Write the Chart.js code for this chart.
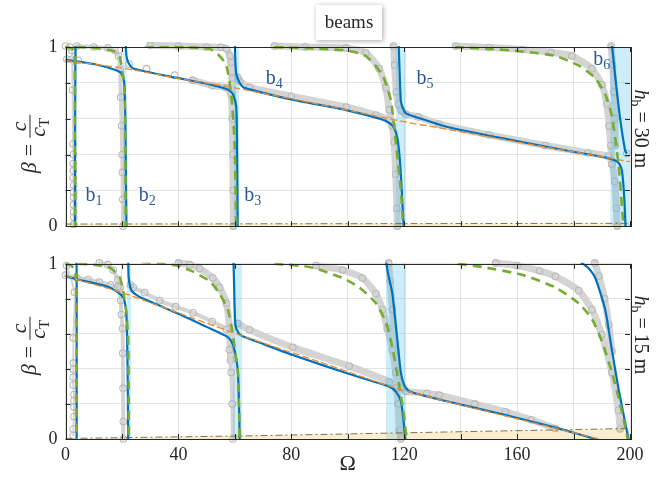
<!DOCTYPE html>
<html>
<head>
<meta charset="utf-8">
<script src="https://cdn.jsdelivr.net/npm/chart.js@4.4.1/dist/chart.umd.min.js"></script>
<style>
  html, body { margin: 0; padding: 0; background: #fff; }
  #wrap { position: relative; width: 656px; height: 477px; }
  canvas { position: absolute; left: 0; }
  #topChart { top: 0; }
  #botChart { top: 245px; }
</style>
</head>
<body>
<div id="wrap">
  <canvas id="topChart" width="656" height="245"></canvas>
  <canvas id="botChart" width="656" height="232"></canvas>
</div>
<script>
// axis ticks
const omegaGrid = [0, 20, 40, 60, 80, 100, 120, 140, 160, 180, 200];
const omegaLabels = [0, 40, 80, 120, 160, 200];
const betaGrid = [0, 0.2, 0.4, 0.6, 0.8, 1];
const betaLabels = [0, 1];

// ---- h_b = 30 m (top panel), points are [Omega, beta] ----
const topBase = [[0,0.925],[21,0.88],[40,0.825],[60,0.772],[65,0.757],[90,0.68],[122,0.577],[132,0.55],[160,0.47],[200,0.36]];

const topBlue1 = [[3.6,1.03],[3.5,0.9],[3.4,0.5],[3.4,0]];
const topBlue2 = [[0,0.928],[10,0.905],[18,0.87],[19.9,0.85],[20.8,0.8],[21.2,0.6],[21.4,0.3],[21.6,0]];
const topBlue3 = [[21.3,1.03],[21.6,0.95],[22.2,0.915],[24,0.88],[40,0.826],[50,0.795],[57.5,0.763],[59.3,0.737],[60.5,0.666],[60.8,0.4],[61,0]];
const topBlue4 = [[60,1.03],[60.1,0.95],[60.5,0.85],[61.7,0.8],[63,0.775],[65,0.765],[79,0.71],[99.4,0.648],[112,0.597],[114.7,0.577],[116.4,0.55],[117.6,0.49],[118.3,0.4],[118.8,0.29],[119.7,0.03],[119.8,0]];
const topBlue5 = [[118,1.03],[118.3,0.9],[118.8,0.7],[119.5,0.66],[120.6,0.63],[125,0.605],[135,0.555],[155,0.49],[179.4,0.417],[192.4,0.38],[195.5,0.36],[196.8,0.33],[197.3,0.29],[198,0.15],[198.4,0]];
const topBlue6 = [[193.5,1.03],[194.8,0.83],[196.5,0.6],[198.3,0.42],[198.9,0.405]];

const topGreen1 = [[0,1.0],[2.5,0.99],[3.2,0.95],[3.35,0.5],[3.4,0]];
const topGreen2 = [[4,1.0],[10,0.995],[15,0.985],[18.1,0.97],[19.3,0.94],[20.4,0.84],[21,0.737],[21.2,0.4],[21.3,0]];
const topGreen3 = [[28,1.01],[40,1.0],[51,0.99],[54.6,0.95],[57,0.897],[58.7,0.737],[59.9,0.47],[60.5,0]];
const topGreen4 = [[74,1.0],[90,0.99],[100.5,0.978],[106.4,0.95],[112.3,0.843],[115.3,0.7],[117,0.47],[118.8,0.204],[119.6,0]];
const topGreen5 = [[138,1.0],[150,0.99],[162,0.975],[173.6,0.95],[181.8,0.897],[187.7,0.826],[191.2,0.737],[193.6,0.613],[195.9,0.346],[197.7,0]];

const topGrayB1 = [[0,1.005],[1.5,1.0],[2.3,0.98],[2.5,0.76],[2.7,0.46],[2.8,0.4],[2.8,0.35],[2.8,0.31],[2.8,0.27],[2.9,0.23],[2.9,0.19],[2.9,0.16],[2.9,0.12],[2.9,0.08],[2.9,0.05],[2.9,0.01]];
const topGrayB2 = [[4,1.005],[10,1.0],[15,0.995],[17.5,0.98],[18.8,0.95],[19.3,0.88],[19.6,0.72],[19.9,0.56],[20.1,0.4],[20.2,0.3],[20.3,0.15],[20.4,0]];
const topGrayLow = [[0.5,0.932],[2,0.93],[4.5,0.925],[22.5,0.905],[28.7,0.879],[38.7,0.843]];
const topGrayB3 = [[45,0.815],[52,0.785],[57,0.773],[58.7,0.737],[59.1,0.6],[59.3,0.4],[59.4,0.2],[59.5,0]];
const topGrayB3up = [[30,1.01],[40,1.005],[50,1.0],[55,0.998],[57,0.99],[58.3,0.95],[58.7,0.915],[59.1,0.826],[59.3,0.7],[59.4,0.5]];
const topGrayB5 = [[61,0.83],[61.7,0.81],[65.2,0.775],[80,0.725],[99.4,0.665],[110,0.62],[114.7,0.59],[115.8,0.56],[116.4,0.47],[117,0.29],[117.4,0.1],[117.6,0]];
const topGrayB5up = [[74,1.005],[85,1.0],[99.4,0.995],[106.4,0.968],[111.1,0.88],[113.5,0.773],[114.7,0.65],[115.8,0.56]];
const topGrayB6 = [[116.2,1.005],[116.6,0.9],[117.2,0.75],[118,0.68],[119,0.645],[120.6,0.625],[125,0.61],[132.3,0.57],[150,0.51],[170,0.45],[185,0.41],[192.4,0.39],[193.6,0.346],[194.6,0.25],[195.2,0.1],[195.5,0]];
const topGrayB6up = [[138.2,1.005],[150,0.997],[161.8,0.986],[172,0.97],[179.4,0.95],[186.5,0.879],[190,0.79],[191.8,0.683],[192.6,0.559],[193.2,0.45],[193.6,0.346]];
const topGrayB6in = [[193.3,1.005],[193.8,0.9],[194.3,0.75],[194.6,0.6],[194.8,0.45]];
const topGrayEnd = [[198.9,0.405]];

const topBands = [[2.8,3.6],[20.4,21.7],[59.6,61.6],[117,120.8],[193,200]];
const topCut = [[0,0.012],[200,0.016]];

// ---- h_b = 15 m (bottom panel) ----
const botBase = [[0,0.93],[21,0.83],[45,0.69],[65,0.575],[90,0.44],[117,0.29],[135,0.215],[160,0.115],[189,0],[195,-0.025]];

const botBlue1 = [[3.9,1.03],[3.95,0.9],[3.95,0]];
const botBlue2 = [[0,0.93],[4,0.912],[10,0.89],[15.7,0.865],[19.9,0.82],[21,0.784],[21.6,0.7],[22,0.4],[22.2,0]];
const botBlue3 = [[22.2,1.03],[22.4,0.92],[23.4,0.847],[26.3,0.81],[40,0.715],[50,0.64],[57,0.587],[58.7,0.56],[59.9,0.506],[61.1,0.38],[61.6,0.1],[61.7,0]];
const botBlue4 = [[59.5,1.03],[59.7,0.9],[60.2,0.65],[61.5,0.6],[62.8,0.587],[68,0.555],[80.5,0.479],[100.5,0.371],[114.7,0.299],[117,0.272],[118.8,0.218],[119.6,0.128],[120.2,0.03],[120.4,0]];
const botBlue5 = [[113.5,1.03],[114.2,0.95],[115.8,0.83],[117.6,0.56],[118.8,0.38],[120,0.308],[121.7,0.272],[132,0.227],[155.9,0.137],[173.6,0.065],[187.7,0],[195,-0.03]];
const botBlue6 = [[182.5,1.01],[185,0.98],[187.7,0.919],[191.2,0.739],[193.6,0.506],[195.9,0.29],[198.3,0.092],[199.5,0]];

const botGreen1 = [[0,1.0],[2,0.99],[3.4,0.96],[3.9,0.85],[3.95,0]];
const botGreen2 = [[4.5,1.0],[10,0.995],[14.6,0.985],[16.9,0.964],[19.3,0.919],[20.4,0.847],[21.6,0.721],[22.2,0.56],[22.4,0.3],[22.4,0]];
const botGreen3 = [[27,1.01],[35,1.0],[39.3,0.99],[45.2,0.955],[51.1,0.9],[54.6,0.829],[57.5,0.739],[59.3,0.596],[60.5,0.45],[61.1,0.38],[61.6,0.1],[61.7,0]];
const botGreen4 = [[74,1.0],[86.4,0.982],[98.2,0.919],[104.1,0.865],[110,0.775],[113.5,0.667],[115.8,0.523],[118.2,0.308],[120,0.128],[120.8,0]];
const botGreen5 = [[139,1.0],[147.6,0.982],[161.8,0.937],[173.6,0.865],[181.8,0.775],[186.5,0.685],[190,0.56],[193.6,0.38],[196.5,0.2],[198.9,0.02],[199.2,0]];

const botGrayB1 = [[0.4,0.99],[3.2,0.838],[2.8,0.577],[2.8,0.434],[2.8,0.398],[2.8,0.353],[2.8,0.308],[3,0.254],[3,0.218],[3,0.182],[3,0.128],[2.8,0.057],[2.8,0.02]];
const botGrayLow = [[0,0.935],[4,0.92],[8,0.91],[12,0.895],[16,0.88],[18.5,0.87],[19.3,0.865]];
const botGrayB2 = [[12,1.005],[15,0.995],[16.9,0.964],[18.5,0.91],[19.3,0.865],[19.6,0.79],[19.8,0.71],[20.2,0.63],[20.3,0.49],[20.4,0.29],[20.5,0.1],[20.5,0]];
const botGrayB3 = [[23,0.88],[24,0.865],[28,0.835],[33.4,0.79],[39,0.755],[45.2,0.72],[52,0.67],[57,0.625],[58.1,0.51],[58.7,0.38],[59.1,0.2],[59.3,0]];
const botGrayB3up = [[40,1.005],[44,0.995],[47.5,0.973],[52.2,0.919],[54.6,0.865],[57,0.775],[58.1,0.63],[58.5,0.45]];
const botGrayB5 = [[61,0.66],[65.2,0.623],[80.5,0.523],[100.5,0.416],[114.7,0.326],[117,0.29],[118,0.2],[118.6,0.05],[118.8,0]];
const botGrayB5up = [[88.8,0.99],[98.2,0.964],[105.2,0.919],[110,0.829],[112.3,0.739],[114,0.631],[115.8,0.506],[117,0.38],[117.8,0.2],[118.2,0.05]];
const botGrayB6 = [[114.5,1.005],[115,0.9],[115.8,0.74],[117,0.506],[118,0.33],[119,0.29],[120.6,0.272],[128,0.26],[132.3,0.25],[145,0.2],[155.9,0.155],[165,0.11],[173.6,0.06]];
const botGrayB6up = [[152.4,1.005],[160,0.99],[168,0.96],[173.6,0.928],[181.8,0.847],[186.5,0.739],[190,0.596],[193.6,0.38],[195.9,0.164],[196.5,0.057]];
const botGrayB6in = [[187.5,1.005],[189,0.93],[191,0.8],[192.5,0.65],[193.6,0.5]];

const botBands = [[21.8,23.2],[59.3,62.6],[113.5,120.8]];
const botCut = [[0,0.003],[65,0.018],[135,0.04],[200,0.06]];

// texts
const resonanceSubs = ['1', '2', '3', '4', '5', '6'];
const resonanceAt = [[10.1,0.17],[29,0.17],[66.3,0.17],[74,0.82],[127.4,0.82],[190,0.93]];
const depthValues = ['30 m', '15 m'];
const figureTitle = 'beams';

const FONT = '"Liberation Serif", "DejaVu Serif", serif';
const BLUE = '#0072bd';
const GREEN = '#77ac30';
const ORANGE = '#f08a24';
const INK = '#262626';
const LABEL = '#2b579a';

const pts = a => a.map(([x, y]) => ({ x, y }));

function curve(a, color, width, dash, order) {
  return {
    data: pts(a), showLine: true, borderColor: color, borderWidth: width, borderDash: dash,
    pointRadius: 0, tension: 0.2, fill: false, order, clip: 1, borderJoinStyle: 'round'
  };
}

function grayCurve(a, width) {
  return {
    data: pts(a), showLine: width > 0, borderColor: '#d4d4d4', borderWidth: width,
    pointRadius: 3.3, pointBorderWidth: 1.1, pointBorderColor: '#bababa',
    pointBackgroundColor: 'rgba(255,255,255,0)', tension: 0.2, order: 7, clip: 5,
    borderJoinStyle: 'round', borderCapStyle: 'round'
  };
}

function band([a, b]) {
  return {
    data: [{ x: a, y: 1 }, { x: b, y: 1 }], showLine: true, borderWidth: 0, pointRadius: 0,
    fill: 'origin', backgroundColor: 'rgba(77,190,238,0.28)', order: 6, clip: 0
  };
}

function cutoff(a) {
  return {
    data: pts(a), showLine: true, borderColor: '#7d7259', borderWidth: 1, borderDash: [7, 3, 2, 3],
    pointRadius: 0, fill: 'origin', backgroundColor: 'rgba(237,177,32,0.22)', order: 5, clip: 0, tension: 0
  };
}

function panelDatasets(p) {
  const sets = [];
  p.bands.forEach(b => sets.push(band(b)));
  sets.push(cutoff(p.cut));
  p.grayThin.forEach(a => sets.push(grayCurve(a, 2)));
  p.grayMid.forEach(a => sets.push(grayCurve(a, 4)));
  p.grayDense.forEach(a => sets.push(grayCurve(a, 7)));
  p.grayDots.forEach(a => sets.push(grayCurve(a, 0)));
  p.blue.forEach(a => sets.push(curve(a, BLUE, 2.2, [], 3)));
  p.green.forEach(a => sets.push(curve(a, GREEN, 2.6, [9, 6], 2)));
  sets.push(curve(p.base, ORANGE, 1.3, [7, 3], 1));
  return sets;
}

// mixed-font text helpers
function runWidth(ctx, parts) {
  return parts.reduce((w, p) => { ctx.font = p.font; return w + ctx.measureText(p.t).width + (p.gap || 0); }, 0);
}
function drawRun(ctx, parts, x, y) {
  parts.forEach(p => {
    ctx.font = p.font;
    ctx.fillText(p.t, x, y + (p.dy || 0));
    x += ctx.measureText(p.t).width + (p.gap || 0);
  });
}

function drawBeta(ctx, cx, cy) {
  ctx.save();
  ctx.translate(cx, cy);
  ctx.rotate(-Math.PI / 2);
  ctx.fillStyle = INK;
  ctx.strokeStyle = INK;
  ctx.textBaseline = 'alphabetic';
  const it = 'italic 22px ' + FONT, rm = '22px ' + FONT, sub = '15px ' + FONT;
  ctx.font = it; const wB = ctx.measureText('β').width; const wc = ctx.measureText('c').width;
  ctx.font = rm; const wEq = ctx.measureText('=').width;
  ctx.font = sub; const wT = ctx.measureText('T').width;
  const gap = 6, wFrac = wc + wT + 4;
  let x0 = -(wB + gap + wEq + gap + wFrac) / 2;
  ctx.font = it; ctx.fillText('β', x0, 6);
  x0 += wB + gap;
  ctx.font = rm; ctx.fillText('=', x0, 6);
  x0 += wEq + gap;
  ctx.lineWidth = 1;
  ctx.beginPath(); ctx.moveTo(x0, 0); ctx.lineTo(x0 + wFrac, 0); ctx.stroke();
  ctx.font = it; ctx.fillText('c', x0 + (wFrac - wc) / 2, -4);
  ctx.fillText('c', x0 + 1, 15);
  ctx.font = sub; ctx.fillText('T', x0 + 1 + wc, 19);
  ctx.restore();
}

function drawDepth(ctx, cx, cy, value) {
  ctx.save();
  ctx.translate(cx, cy);
  ctx.rotate(Math.PI / 2);
  ctx.fillStyle = INK;
  ctx.textBaseline = 'alphabetic';
  const parts = [
    { t: 'h', font: 'italic 20px ' + FONT },
    { t: 'b', font: '14px ' + FONT, dy: 4, gap: 5 },
    { t: '= ' + value, font: '20px ' + FONT }
  ];
  drawRun(ctx, parts, -runWidth(ctx, parts) / 2, 0);
  ctx.restore();
}

function drawTitleBox(ctx, cx) {
  ctx.save();
  ctx.shadowColor = 'rgba(0,0,0,0.35)';
  ctx.shadowBlur = 5;
  ctx.shadowOffsetX = 1;
  ctx.shadowOffsetY = 1;
  ctx.fillStyle = '#fff';
  ctx.fillRect(cx - 33, 5, 66, 35);
  ctx.restore();
  ctx.save();
  ctx.fillStyle = INK;
  ctx.font = '19px ' + FONT;
  ctx.textAlign = 'center';
  ctx.textBaseline = 'alphabetic';
  ctx.fillText(figureTitle, cx, 28);
  ctx.restore();
}

const annotPlugin = {
  id: 'annot',
  afterDatasetsDraw(chart) {
    const { ctx, chartArea: a, scales: { x, y } } = chart;
    ctx.save();
    ctx.strokeStyle = INK;
    ctx.lineWidth = 1;
    ctx.beginPath();
    omegaGrid.forEach(v => {
      const px = Math.round(x.getPixelForValue(v)) + 0.5;
      ctx.moveTo(px, a.bottom); ctx.lineTo(px, a.bottom - 5);
      ctx.moveTo(px, a.top); ctx.lineTo(px, a.top + 5);
    });
    betaGrid.forEach(v => {
      const py = Math.round(y.getPixelForValue(v)) + 0.5;
      ctx.moveTo(a.left, py); ctx.lineTo(a.left + 5, py);
      ctx.moveTo(a.right, py); ctx.lineTo(a.right - 5, py);
    });
    ctx.stroke();
    ctx.strokeRect(Math.round(a.left) + 0.5, Math.round(a.top) + 0.5, Math.round(a.right - a.left), Math.round(a.bottom - a.top));
    ctx.restore();
  },
  afterDraw(chart, args, o) {
    const { ctx, scales: { x, y } } = chart;
    if (o.resonances) {
      ctx.save();
      ctx.fillStyle = LABEL;
      ctx.textBaseline = 'alphabetic';
      resonanceAt.forEach(([om, be], i) => {
        const parts = [{ t: 'b', font: '20px ' + FONT }, { t: resonanceSubs[i], font: '14px ' + FONT, dy: 4 }];
        const w = runWidth(ctx, parts);
        drawRun(ctx, parts, x.getPixelForValue(om) - w / 2, y.getPixelForValue(be) + 5);
      });
      ctx.restore();
    }
    drawBeta(ctx, 30, o.betaY);
    drawDepth(ctx, 635, o.depthY, o.depth);
    if (o.title) drawTitleBox(ctx, 349);
  }
};

function panelOptions(bottom, annot) {
  return {
    responsive: false,
    animation: false,
    events: [],
    layout: { padding: { left: 0, right: 26, top: bottom ? 8.3 : 47, bottom: 0 } },
    plugins: { legend: { display: false }, tooltip: { enabled: false }, annot },
    scales: {
      x: {
        type: 'linear', min: 0, max: 200,
        afterBuildTicks: s => { s.ticks = omegaGrid.map(v => ({ value: v })); },
        afterFit: s => { s.height = bottom ? 38 : 10; },
        grid: { color: '#e3e3e3', drawTicks: false },
        border: { display: false },
        ticks: {
          display: bottom, autoSkip: false, maxRotation: 0, padding: 5, color: INK,
          font: { family: FONT, size: 18 },
          callback: v => omegaLabels.includes(v) ? String(v) : ''
        },
        title: { display: bottom, text: 'Ω', color: INK, font: { family: FONT, size: 22 }, padding: 0 }
      },
      y: {
        type: 'linear', min: 0, max: 1,
        afterBuildTicks: s => { s.ticks = betaGrid.map(v => ({ value: v })); },
        afterFit: s => { s.width = 65.5; },
        grid: { color: '#e3e3e3', drawTicks: false },
        border: { display: false },
        ticks: {
          padding: 8, color: INK, font: { family: FONT, size: 18 },
          callback: v => betaLabels.includes(v) ? String(v) : ''
        }
      }
    }
  };
}

new Chart(document.getElementById('topChart'), {
  type: 'scatter',
  data: {
    datasets: panelDatasets({
      base: topBase,
      blue: [topBlue1, topBlue2, topBlue3, topBlue4, topBlue5, topBlue6],
      green: [topGreen1, topGreen2, topGreen3, topGreen4, topGreen5],
      grayThin: [topGrayB1],
      grayMid: [topGrayB2],
      grayDense: [topGrayB3, topGrayB3up, topGrayB5, topGrayB5up, topGrayB6, topGrayB6up, topGrayB6in],
      grayDots: [topGrayLow, topGrayEnd],
      bands: topBands,
      cut: topCut
    })
  },
  options: panelOptions(false, { resonances: true, betaY: 144, depthY: 129, depth: depthValues[0], title: true }),
  plugins: [annotPlugin]
});

new Chart(document.getElementById('botChart'), {
  type: 'scatter',
  data: {
    datasets: panelDatasets({
      base: botBase,
      blue: [botBlue1, botBlue2, botBlue3, botBlue4, botBlue5, botBlue6],
      green: [botGreen1, botGreen2, botGreen3, botGreen4, botGreen5],
      grayThin: [botGrayB1],
      grayMid: [botGrayLow, botGrayB2, botGrayB3],
      grayDense: [botGrayB3up, botGrayB5, botGrayB5up, botGrayB6, botGrayB6up, botGrayB6in],
      grayDots: [],
      bands: botBands,
      cut: botCut
    })
  },
  options: panelOptions(true, { resonances: false, betaY: 101, depthY: 90, depth: depthValues[1], title: false }),
  plugins: [annotPlugin]
});
</script>
</body>
</html>
